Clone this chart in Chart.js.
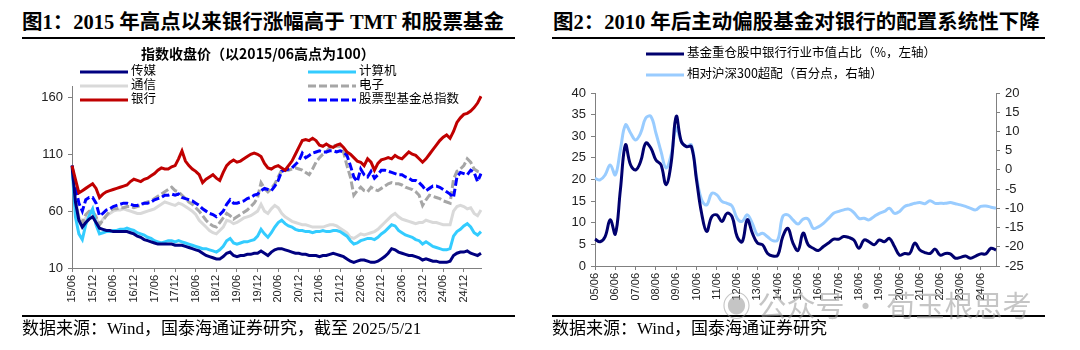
<!DOCTYPE html>
<html>
<head>
<meta charset="utf-8">
<script src="https://cdn.jsdelivr.net/npm/chart.js@4.4.1/dist/chart.umd.min.js"></script>
<style>
body{margin:0;width:1080px;height:350px;background:#fff;position:relative;overflow:hidden;font-family:"Liberation Serif","Noto Sans CJK SC",serif;color:#000}
.title{position:absolute;top:9px;font-size:20.5px;font-weight:bold;white-space:nowrap;line-height:26px}
.rule{position:absolute;height:2px;background:#000}
.src{position:absolute;top:318px;font-size:17px;white-space:nowrap;line-height:22px}
.box{position:absolute}
.lg{position:absolute;font-size:12.5px;line-height:14px;white-space:nowrap;font-family:"Noto Sans CJK SC",sans-serif}
.lg svg{vertical-align:middle;margin-right:3px}
.lgt{position:absolute;left:108px;width:300px;text-align:center;top:43px;font-size:14px;font-weight:bold;white-space:nowrap;font-family:"Noto Sans CJK SC",sans-serif}
.wm{position:absolute;left:722px;top:283px;font-size:29px;color:rgba(150,150,150,0.55);white-space:nowrap;font-family:"Noto Sans CJK SC",sans-serif}
</style>
</head>
<body>

<div class="title" style="left:22px">图1：2015 年高点以来银行涨幅高于 TMT 和股票基金</div>
<div class="rule" style="left:22px;top:37px;width:493px"></div>
<div class="title" style="left:553px">图2：2010 年后主动偏股基金对银行的配置系统性下降</div>
<div class="rule" style="left:552px;top:37px;width:493px"></div>

<div class="box" style="left:0;top:40px;width:540px;height:280px"><canvas id="c1"></canvas></div>
<div class="box" style="left:540px;top:40px;width:540px;height:280px"><canvas id="c2"></canvas></div>

<div class="lgt">指数收盘价（以2015/06高点为100）</div>
<div id="lg1"></div>
<div id="lg2"></div>

<div class="rule" style="left:22px;top:315px;width:493px"></div>
<div class="rule" style="left:552px;top:315px;width:493px"></div>
<div class="src" style="left:22px">数据来源：Wind，国泰海通证券研究，截至 2025/5/21</div>
<div class="src" style="left:552px">数据来源：Wind，国泰海通证券研究</div>
<div class="wm">◉ 公众号 · 荀玉根思考</div>

<script>
// ---------- 图1：月度指数（2015/06 = 100），读图估计 ----------
var months = [];
for (var i = 0; i < 120; i++) {
    var y = 15 + Math.floor((5 + i) / 12), m = (5 + i) % 12 + 1;
    months.push(y + '/' + (m < 10 ? '0' + m : m));
}

var media = [100,68,52,46,50,53,55,50,45,44,43,43,42,42,42,42,42,41,40,38,37,35,34,33,32,31,31,31,31,31,
    30,30,30,29,28,27,26,25,23,21,20,19,18,18,20,23,24,21,20,21,21,22,22,23,23,25,23,21,24,26,
    27,27,26,25,24,23,23,22,22,21,21,21,20,21,21,22,23,22,21,20,18,16,15,16,17,17,16,15,15,16,
    18,20,23,27,26,24,23,22,21,21,20,19,17,18,17,16,16,15,15,15,16,21,23,24,24,25,23,22,21,23];
var computer = [100,55,40,35,48,56,62,48,40,41,42,42,43,43,44,44,45,44,43,41,40,39,37,36,34,33,32,33,34,34,
    33,34,33,32,31,30,29,28,27,27,26,25,24,26,29,34,36,32,31,32,33,33,34,35,38,44,40,37,41,46,
    50,52,49,47,46,44,43,43,42,42,41,42,42,43,42,42,43,43,42,40,38,34,31,32,34,35,36,36,35,37,
    40,42,45,48,47,43,41,39,38,37,35,34,31,33,31,29,28,27,26,26,27,38,42,44,47,49,46,41,39,42];
var telecom = [100,72,55,50,54,56,56,54,48,53,56,58,60,61,61,62,61,60,59,58,58,59,60,61,62,64,66,68,67,66,
    65,67,66,64,62,60,57,52,49,46,43,41,40,43,46,52,51,49,50,52,54,55,56,58,60,66,60,58,62,65,
    63,58,55,53,51,50,49,48,48,47,46,46,46,46,47,48,48,47,45,43,41,37,36,38,40,39,40,41,42,44,
    47,50,53,56,58,55,53,52,51,50,49,50,50,52,51,50,50,49,48,48,48,60,64,65,64,62,63,58,56,61];
var electronics = [100,70,52,50,57,60,60,55,48,52,56,60,62,62,63,63,64,64,63,64,65,67,68,69,71,73,75,77,79,81,
    78,77,74,71,68,66,63,60,56,52,49,47,46,50,54,58,56,53,55,57,59,61,64,67,72,85,80,77,80,84,
    90,96,96,96,97,98,97,96,94,92,97,103,107,110,112,116,118,117,117,112,100,90,74,78,81,78,77,81,79,78,
    80,82,84,85,84,84,83,81,80,79,77,74,65,70,74,73,72,71,69,68,67,88,95,97,100,106,103,97,95,94];
var banks = [100,88,76,78,80,82,84,80,72,75,77,78,79,80,81,82,83,86,88,87,86,88,89,91,93,96,98,97,97,99,
    100,106,113,104,100,97,95,92,85,88,90,92,89,87,94,100,103,105,103,104,106,108,110,111,110,108,102,98,97,99,
    100,98,96,100,104,110,116,122,123,122,124,122,118,117,119,117,116,118,119,116,112,110,107,104,103,100,106,103,96,102,
    105,106,107,106,109,107,106,109,112,110,109,106,103,106,110,114,118,122,125,127,124,130,138,142,145,146,148,151,155,161];
var fundIndex = [100,82,67,60,70,72,72,67,56,58,61,62,64,65,66,67,67,66,65,65,66,67,67,68,70,71,72,74,74,75,
    74,75,72,71,70,69,67,65,62,60,58,57,55,57,60,66,70,67,67,68,69,71,72,74,75,78,80,79,78,82,
    87,95,96,97,98,101,104,111,107,109,111,112,113,112,112,113,113,112,113,112,109,100,90,86,97,92,90,95,89,92,
    96,96,95,94,93,92,92,90,89,87,87,85,82,78,80,82,82,81,79,77,75,72,90,94,93,92,96,94,86,93];

var names1 = ['传媒', '计算机', '通信', '电子', '银行', '股票型基金总指数'];
var colors1 = ['#000080', '#33ccff', '#d9d9d9', '#a6a6a6', '#c00000', '#0000ff'];
var dashes1 = [[], [], [], [8, 3], [], [8, 3]];
var series1 = [media, computer, telecom, electronics, banks, fundIndex];
var drawOrder1 = [2, 4, 6, 5, 1, 3];
var yTicks1 = [10, 60, 110, 160];

// ---------- 图2：季度数据，读图估计 ----------
var quarters = [];
for (var q = 0; q < 80; q++) {
    var yy = 5 + Math.floor((5 + q * 3) / 12), mm = (5 + q * 3) % 12 + 1;
    quarters.push((yy < 10 ? '0' + yy : yy) + '/' + (mm < 10 ? '0' + mm : mm));
}
var bankShare = [6.2,5.6,6.8,10.7,7.4,17.6,28.0,23.4,22.2,24.2,28.4,27.3,24.5,23.4,18.8,23.8,34.6,28.8,27.6,27.6,
    19.9,12.2,8.0,11.4,11.8,10.3,12.2,11.4,6.8,5.6,10.7,7.6,5.3,4.9,2.9,2.3,2.5,6.8,8.7,5.3,
    3.6,7.6,4.9,4.1,3.6,4.5,5.3,6.2,6.2,6.8,6.6,6.0,4.1,6.0,5.6,4.9,6.0,5.6,6.4,4.5,
    2.5,2.9,2.9,5.3,3.7,3.1,2.9,3.9,2.5,2.9,2.8,1.8,2.0,2.3,1.8,2.3,2.8,2.8,4.1,3.7];
var overweight = [-2.2,-2.6,-1.3,1.3,-1.3,5.2,11.7,9.6,7.8,9.6,13.5,13.9,9.6,4.8,0.5,3.9,10.9,7.4,6.1,6.5,
    -1.7,-7.8,-9.1,-6.1,-6.5,-8.2,-8.7,-9.4,-12.6,-13.4,-11.7,-13.9,-16.9,-16.5,-17.4,-18.4,-18.2,-12.1,-11.7,-13.0,
    -14.1,-12.8,-12.8,-15.2,-14.8,-13.9,-12.6,-11.3,-10.8,-10.4,-10.2,-11.1,-12.6,-12.6,-13.0,-12.1,-11.3,-10.8,-10.0,-11.3,
    -10.8,-9.5,-9.1,-8.7,-8.5,-8.8,-8.0,-8.7,-8.7,-8.7,-8.5,-8.8,-9.1,-9.5,-10.0,-10.4,-9.5,-9.4,-9.7,-10.0];
var names2 = ['基金重仓股中银行行业市值占比（%，左轴）', '相对沪深300超配（百分点，右轴）'];
var colors2 = ['#00006e', '#99ccff'];

// ---------- 图例 ----------
function sample(color, dash, w) {
    return '<svg width="' + w + '" height="6"><line x1="0" y1="3" x2="' + w + '" y2="3" stroke="' + color +
        '" stroke-width="3"' + (dash.length ? ' stroke-dasharray="' + dash.join(' ') + '"' : '') + '/></svg>';
}
var html = '';
for (var k = 0; k < names1.length; k++) {
    var col = k % 2, row = Math.floor(k / 2);
    html += '<div class="lg" style="left:' + (col ? 308 : 80) + 'px;top:' + (63 + row * 14) + 'px">' +
        sample(colors1[k], dashes1[k], 48) + names1[k] + '</div>';
}
document.getElementById('lg1').innerHTML = html;
html = '';
for (var k = 0; k < names2.length; k++) {
    html += '<div class="lg" style="left:646px;top:' + (45 + k * 21) + 'px">' +
        sample(colors2[k], [], 38) + names2[k] + '</div>';
}
document.getElementById('lg2').innerHTML = html;

// ---------- 图1 ----------
Chart.defaults.font.family = '"Liberation Sans", Arial, sans-serif';
Chart.defaults.color = '#222';
Chart.defaults.animation = false;

new Chart(document.getElementById('c1'), {
    type: 'line',
    data: {
        labels: months,
        datasets: series1.map(function (d, i) {
            return {
                label: names1[i], data: d, borderColor: colors1[i], borderWidth: 3,
                borderDash: dashes1[i], pointRadius: 0, tension: 0, order: drawOrder1[i]
            };
        })
    },
    options: {
        responsive: true, maintainAspectRatio: false,
        layout: { padding: { left: 0, right: 59, top: 46, bottom: 0 } },
        plugins: { legend: { display: false }, tooltip: { enabled: false } },
        scales: {
            x: {
                border: { color: '#808080' },
                grid: { display: true, drawOnChartArea: false, tickLength: 4, color: '#808080' },
                ticks: {
                    autoSkip: false, minRotation: 90, maxRotation: 90, padding: 3, font: { size: 11 },
                    callback: function (v, i) { return i % 6 === 0 ? months[i] : null; }
                },
                afterFit: function (s) { s.height = 52; }
            },
            y: {
                min: 10, max: 170,
                border: { color: '#808080' },
                grid: { display: true, drawOnChartArea: false, tickLength: 4, color: '#808080' },
                ticks: { font: { size: 13 }, padding: 5 },
                afterBuildTicks: function (s) { s.ticks = yTicks1.map(function (v) { return { value: v }; }); },
                afterFit: function (s) { s.width = 72; }
            }
        }
    }
});

// ---------- 图2 ----------
new Chart(document.getElementById('c2'), {
    type: 'line',
    data: {
        labels: quarters,
        datasets: [
            { label: names2[0], data: bankShare, borderColor: colors2[0], borderWidth: 3, pointRadius: 0, tension: 0.4, yAxisID: 'y', order: 1 },
            { label: names2[1], data: overweight, borderColor: colors2[1], borderWidth: 3, pointRadius: 0, tension: 0.4, yAxisID: 'y1', order: 2 }
        ]
    },
    options: {
        responsive: true, maintainAspectRatio: false,
        layout: { padding: { left: 0, right: 0, top: 53, bottom: 0 } },
        plugins: { legend: { display: false }, tooltip: { enabled: false } },
        scales: {
            x: {
                border: { color: '#808080' },
                grid: { display: true, drawOnChartArea: false, tickLength: 4, color: '#808080' },
                ticks: {
                    autoSkip: false, minRotation: 90, maxRotation: 90, padding: 3, font: { size: 11 },
                    callback: function (v, i) { return quarters[i].slice(3) === '06' ? quarters[i] : null; }
                },
                afterFit: function (s) { s.height = 54; }
            },
            y: {
                position: 'left', min: 0, max: 40,
                border: { color: '#808080' },
                grid: { display: true, drawOnChartArea: false, tickLength: 4, color: '#808080' },
                ticks: { stepSize: 5, font: { size: 13 }, padding: 5 },
                afterFit: function (s) { s.width = 55; }
            },
            y1: {
                position: 'right', min: -25, max: 20,
                border: { color: '#808080' },
                grid: { display: true, drawOnChartArea: false, tickLength: 4, color: '#808080' },
                ticks: { stepSize: 5, font: { size: 13 }, padding: 5 },
                afterFit: function (s) { s.width = 84; }
            }
        }
    }
});
</script>
</body>
</html>
